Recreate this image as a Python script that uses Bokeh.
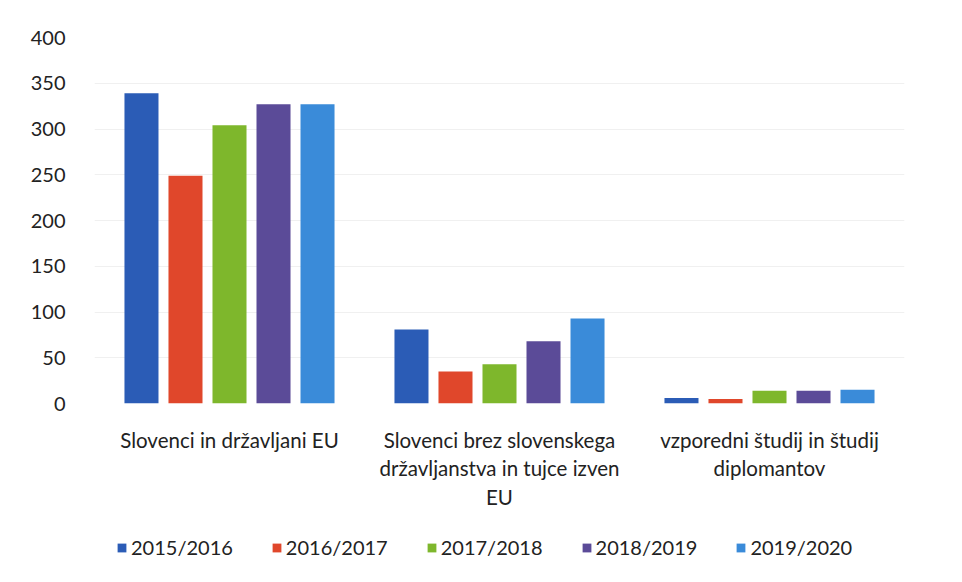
from bokeh.plotting import figure
from bokeh.models import ColumnDataSource, FactorRange, Legend, LegendItem
from bokeh.layouts import column
from bokeh.transform import dodge
from bokeh.embed import file_html
from bokeh.resources import INLINE

categories = ["Slovenci in državljani EU",
              "Slovenci brez slovenskega\ndržavljanstva in tujce izven\nEU",
              "vzporedni študij in študij\ndiplomantov"]
years = ["2015/2016", "2016/2017", "2017/2018", "2018/2019", "2019/2020"]
v2015 = [339, 81, 6]
v2016 = [249, 35, 5]
v2017 = [304, 43, 14]
v2018 = [327, 68, 14]
v2019 = [327, 93, 15]
colors = ["#2b5cb6", "#e0472b", "#7eb72c", "#5b4b98", "#3a8bd9"]
yticks = [0, 50, 100, 150, 200, 250, 300, 350, 400]

series = [v2015, v2016, v2017, v2018, v2019]
data = {"cat": categories}
for y, s in zip(years, series):
    data[y] = s
source = ColumnDataSource(data)

p = figure(x_range=FactorRange(*categories, range_padding=0), y_range=(0, 400),
           frame_width=810, frame_height=366, output_backend="svg",
           toolbar_location=None,
           min_border_left=94, min_border_right=42, min_border_top=37,
           min_border_bottom=115)
p.x_range.range_padding = 0
p.outline_line_color = None

offsets = [-0.326, -0.163, 0.0, 0.163, 0.326]
for y, c, off in zip(years, colors, offsets):
    p.vbar(x=dodge("cat", off, range=p.x_range), top=y, width=0.126,
           source=source, fill_color=c, line_color=None)

p.yaxis.ticker = yticks
p.yaxis.axis_line_color = None
p.yaxis.major_tick_line_color = None
p.yaxis.minor_tick_line_color = None
p.yaxis.major_label_text_font = "Lato"
p.yaxis.major_label_text_font_size = "20px"
p.yaxis.major_label_text_color = "#222222"
p.yaxis.major_label_standoff = 23

p.xaxis.axis_line_color = None
p.xaxis.major_tick_line_color = None
p.xaxis.major_label_text_font = "Lato"
p.xaxis.major_label_text_font_size = "20.5px"
p.xaxis.major_label_text_color = "#222222"
p.xaxis.major_label_standoff = 18

p.xgrid.grid_line_color = None
p.ygrid.grid_line_color = "#f0f0f0"

# legend strip: same bars, but the view range hides them; only the legend shows
p2 = figure(frame_width=810, height=72, output_backend="svg", toolbar_location=None,
            min_border_left=94, min_border_right=42, min_border_top=0,
            min_border_bottom=0, x_range=p.x_range, y_range=(1000, 1001))
p2.axis.visible = False
p2.grid.grid_line_color = None
p2.outline_line_color = None
items = []
for y, c, off in zip(years, colors, offsets):
    r = p2.vbar(x=dodge("cat", off, range=p.x_range), top=y, width=0.126,
                source=source, fill_color=c, line_color=None)
    items.append(LegendItem(label=y, renderers=[r]))
legend = Legend(items=items, orientation="horizontal", location=(22, 31),
                label_text_font="Lato", label_text_font_size="20px",
                label_text_color="#222222", glyph_width=11, glyph_height=11,
                spacing=38, border_line_color=None, background_fill_alpha=0,
                label_standoff=4, margin=0, padding=0)
p2.add_layout(legend, "center")

open("out.html", "w").write(file_html(column(p, p2), INLINE))
